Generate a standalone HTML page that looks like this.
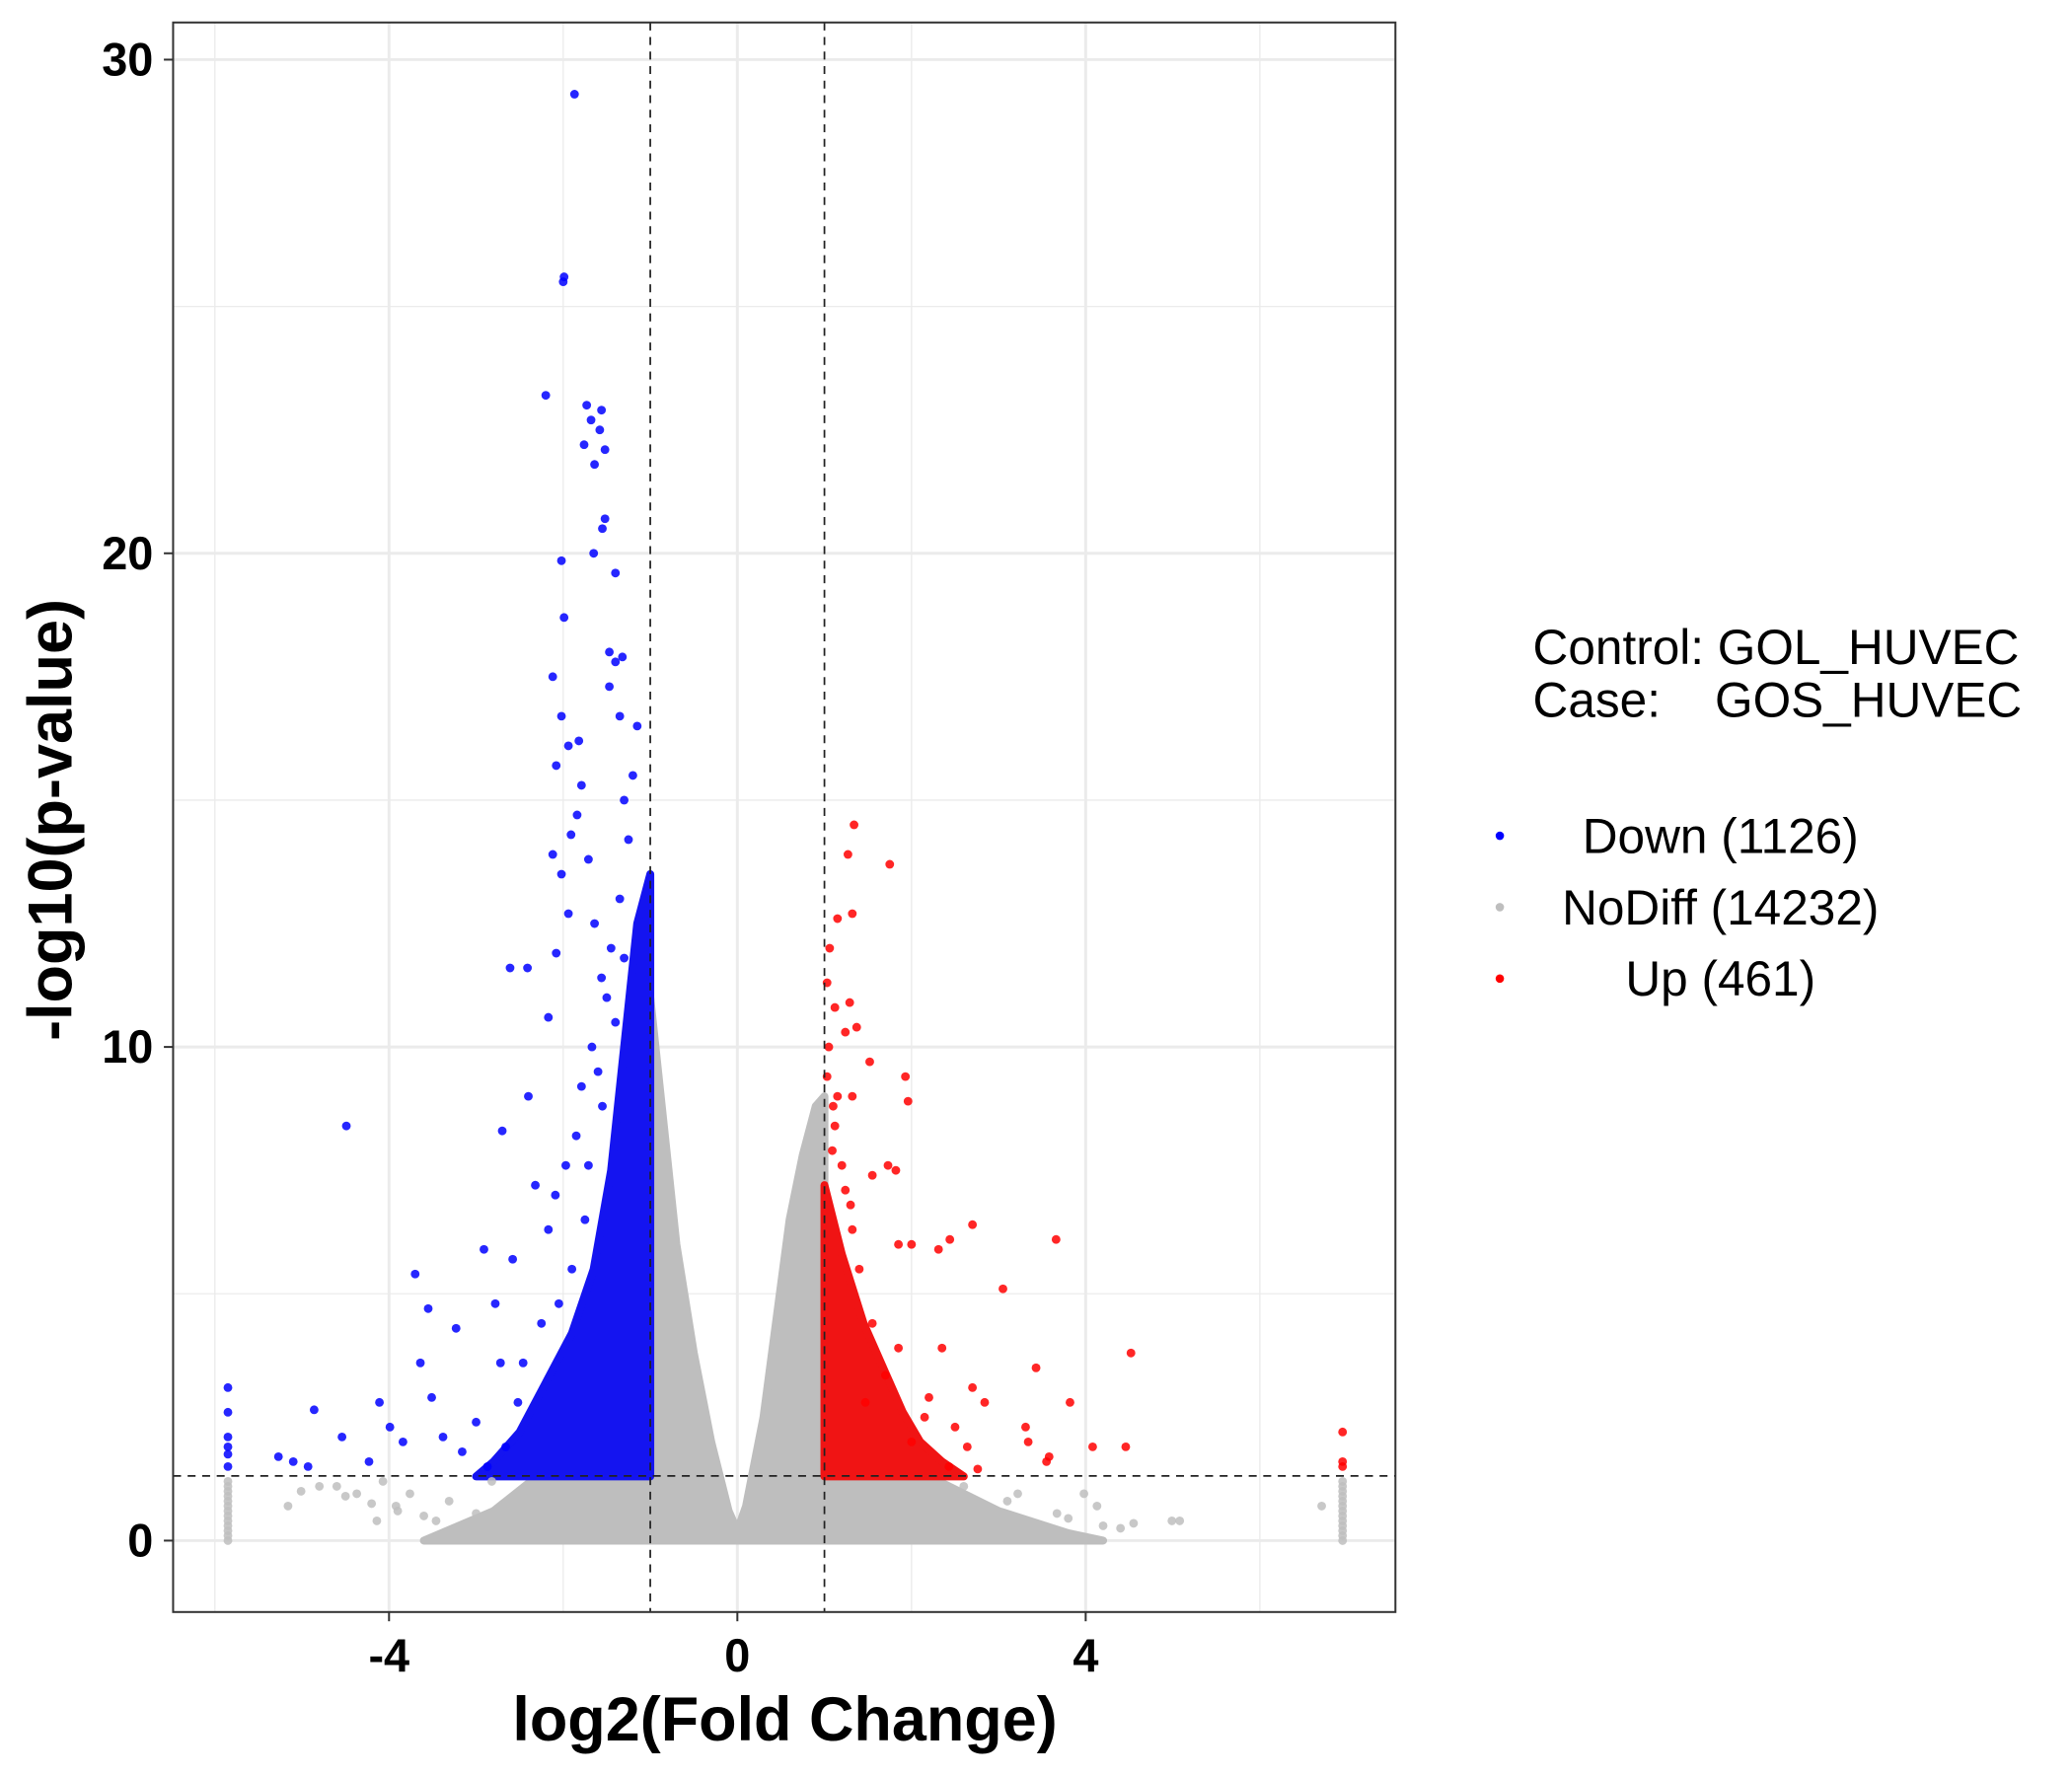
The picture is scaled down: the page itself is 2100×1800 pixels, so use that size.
<!DOCTYPE html>
<html><head><meta charset="utf-8"><style>
html,body{margin:0;padding:0;background:#fff;}
svg{display:block;font-family:"Liberation Sans",sans-serif;}
</style></head><body>
<svg id="chart" width="2100" height="1800" viewBox="0 0 1568 1343" preserveAspectRatio="none" xmlns="http://www.w3.org/2000/svg">
<rect x="0" y="0" width="1568" height="1343" fill="#fff"/>
<g id="grid"></g>
<g id="areas"></g>
<g id="pts"></g>
<g id="ref"></g>
<rect x="131" y="17" width="925" height="1202" fill="none" stroke="#333" stroke-width="1.5"/>
<g id="axes"></g>
<text x="594" y="1316" text-anchor="middle" font-weight="bold" font-size="47">log2(Fold Change)</text>
<text transform="translate(54,620) rotate(-90)" text-anchor="middle" font-weight="bold" font-size="47">-log10(p-value)</text>
<g font-size="37">
<text x="1160" y="502">Control: GOL_HUVEC</text>
<text x="1160" y="542" xml:space="preserve">Case:    GOS_HUVEC</text>
<circle cx="1135" cy="632" r="3.2" fill="#0000ff"/>
<text x="1302" y="645" text-anchor="middle">Down (1126)</text>
<circle cx="1135" cy="686" r="3.2" fill="#bebebe"/>
<text x="1302" y="699" text-anchor="middle">NoDiff (14232)</text>
<circle cx="1135" cy="740" r="3.2" fill="#ff0000"/>
<text x="1302" y="753" text-anchor="middle">Up (461)</text>
</g>
</svg>
<script>
const xTicks=[-4,0,4];
const xTickLabels=["-4","0","4"];
const xMinor=[-6,-2,2,6];
const yTicks=[0,10,20,30];
const yTickLabels=["0","10","20","30"];
const yMinor=[5,15,25];
const fcCut=[-1,1];
const pCut=1.31;
const nodiffArea=[[-1,1.3],[-1,11],[-0.85,8.5],[-0.7,6],[-0.5,3.8],[-0.3,2],[-0.1,0.6],[0,0.2],[0.1,0.7],[0.3,2.5],[0.45,4.5],[0.6,6.5],[0.75,7.8],[0.9,8.8],[1,9],[1,1.3],[2.2,1.3],[3,0.6],[3.8,0.15],[4.2,0],[-3.6,0],[-2.8,0.6],[-2.3,1.3]];
const downArea=[[-1,1.3],[-1,13.5],[-1.15,12.5],[-1.3,10],[-1.45,7.5],[-1.65,5.5],[-1.9,4.2],[-2.2,3.2],[-2.5,2.2],[-2.8,1.6],[-3,1.3]];
const upArea=[[1,1.3],[1,7.2],[1.2,5.8],[1.45,4.4],[1.7,3.4],[1.9,2.6],[2.1,2.0],[2.35,1.6],[2.6,1.3]];
const downX=[-1.87,-2.0,-1.99,-2.2,-1.73,-1.68,-1.56,-1.58,-1.52,-1.76,-1.64,-1.52,-1.55,-1.65,-1.4,-2.02,-1.99,-2.12,-2.02,-1.94,-2.08,-1.82,-1.47,-1.4,-1.32,-1.47,-1.35,-4.49,-2.61,-2.41,-2.7,-2.4,-2.32,-2.91,-2.58,-3.7,-3.55,-3.23,-2.78,-3.64,-2.72,-3.51,-4.11,-4.86,-4.54,-3.99,-5.27,-5.1,-4.93,-4.23,-3.84,-3.38,-3.16,-3.0,-2.87,-2.66,-2.52,-2.46,-2.25,-2.17,-2.09,-1.97,-2.17,-2.08,-1.94,-2.02,-1.91,-2.12,-1.84,-1.79,-1.71,-1.64,-1.56,-1.67,-1.79,-1.85,-1.71,-1.3,-1.25,-1.35,-1.2,-1.45,-1.5,-1.6,-1.3,-1.15,-1.4,-1.55,-1.75,-1.9,-2.05,-5.85,-5.85,-5.85,-5.85,-5.85,-5.85];
const downY=[29.3,25.5,25.6,23.2,23.0,22.7,22.9,22.5,22.1,22.2,21.8,20.7,20.5,20.0,19.6,19.85,18.7,17.5,16.7,16.1,15.7,16.2,18.0,17.8,17.9,17.3,16.7,8.4,11.6,11.6,8.3,9.0,7.2,5.9,5.7,5.4,4.7,4.3,4.8,3.6,3.6,2.9,2.8,2.65,2.1,2.3,1.7,1.6,1.5,1.6,2.0,2.1,1.8,2.4,1.5,1.9,2.8,3.6,4.4,6.3,7.0,7.6,10.6,11.9,12.7,13.5,14.3,13.9,14.7,15.3,13.8,12.5,11.4,10.0,9.2,8.2,7.6,15.0,14.2,13.0,15.5,12.0,11.0,9.5,11.8,16.5,10.5,8.8,6.5,5.5,4.8,3.1,2.6,2.1,1.9,1.75,1.5];
const upX=[1.34,1.27,1.75,1.32,1.15,1.06,1.03,1.29,1.12,1.37,1.24,1.05,1.52,1.93,1.96,1.32,1.03,1.12,1.73,1.82,1.55,2.7,3.66,2.44,2.31,1.85,2.0,3.05,4.52,2.35,3.43,3.82,2.7,2.84,2.2,3.31,3.34,3.58,3.55,4.08,4.46,2.5,2.64,2.76,2.43,2.0,2.15,1.7,1.85,1.55,1.4,1.32,1.24,1.09,1.47,1.1,1.2,1.3,1.15,6.95,6.95,6.95];
const upY=[14.5,13.9,13.7,12.7,12.6,12.0,11.3,10.9,10.8,10.4,10.3,10.0,9.7,9.4,8.9,9.0,9.4,8.4,7.6,7.5,7.4,6.4,6.1,6.1,5.9,6.0,6.0,5.1,3.8,3.9,3.5,2.8,3.1,2.8,2.9,2.3,2.0,1.7,1.6,1.9,1.9,2.3,1.9,1.45,1.5,2.0,2.5,3.35,3.9,4.4,5.5,6.3,7.1,7.9,2.8,8.8,7.6,6.8,9.0,2.2,1.6,1.5];
const nodiffX=[4.99,5.08,4.55,4.13,3.98,3.67,3.22,2.76,3.07,6.71,-5.16,-5.01,-4.6,-4.37,-4.14,-3.92,-3.76,-3.46,-3.31,-3.0,-2.82,-2.55,-4.07,-4.8,-4.5,-4.2,-3.9,-3.6,2.5,2.9,3.3,3.5,3.8,4.2,4.4,2.6,3.1,-5.85,-5.85,-5.85,-5.85,-5.85,-5.85,-5.85,-5.85,-5.85,-5.85,-5.85,-5.85,-5.85,6.95,6.95,6.95,6.95,6.95,6.95,6.95,6.95,6.95,6.95,6.95,6.95,6.95];
const nodiffY=[0.4,0.4,0.35,0.7,0.95,0.55,0.95,0.7,0.3,0.7,0.7,1.0,1.1,0.95,0.4,0.7,0.95,0.4,0.8,0.55,1.2,0.7,1.2,1.1,0.9,0.75,0.6,0.5,0.9,0.4,0.3,0.2,0.45,0.3,0.25,1.1,0.8,0,0.1,0.2,0.3,0.4,0.5,0.6,0.7,0.8,0.9,1.0,1.1,1.2,0,0.1,0.2,0.3,0.4,0.5,0.6,0.7,0.8,0.9,1.0,1.1,1.2];

const NS='http://www.w3.org/2000/svg';
function sx(v){return 558+v*65.9;}
function sy(v){return 1165-v*37.33;}
function mk(tag,attrs,parent){const e=document.createElementNS(NS,tag);for(const k in attrs)e.setAttribute(k,attrs[k]);parent.appendChild(e);return e;}
const grid=document.getElementById('grid');
xMinor.forEach(v=>{const l=mk('line',{x1:sx(v),x2:sx(v),y1:17,y2:1219,stroke:'#ebebeb','stroke-width':1},grid);

});
yMinor.forEach(v=>{const l=mk('line',{x1:131,x2:1056,y1:sy(v),y2:sy(v),stroke:'#ebebeb','stroke-width':1},grid);

});
xTicks.forEach(v=>{const l=mk('line',{x1:sx(v),x2:sx(v),y1:17,y2:1219,stroke:'#ebebeb','stroke-width':2.2},grid);

});
yTicks.forEach(v=>{const l=mk('line',{x1:131,x2:1056,y1:sy(v),y2:sy(v),stroke:'#ebebeb','stroke-width':2.2},grid);

});

const areas=document.getElementById('areas');
function area(arr,fill,name){const p=mk('polygon',{points:arr.map(d=>sx(d[0])+','+sy(d[1])).join(' '),fill:fill,stroke:fill,'stroke-width':6,'stroke-linejoin':'round'},areas);

}
area(nodiffArea,'#bebebe','nodiff-dense-area');
area(downArea,'#1414f0','down-dense-area');
area(upArea,'#f01414','up-dense-area');

const pts=document.getElementById('pts');
function series(xs,ys,fill,name){xs.forEach((x,i)=>{const c=mk('circle',{cx:sx(x),cy:sy(ys[i]),r:3.3,fill:fill,'fill-opacity':0.85},pts);

});}
series(nodiffX,nodiffY,'#bebebe','nodiff-point');
series(downX,downY,'#0000ff','down-point');
series(upX,upY,'#ff0000','up-point');

const ref=document.getElementById('ref');
fcCut.forEach(v=>{const l=mk('line',{x1:sx(v),x2:sx(v),y1:17,y2:1219,stroke:'#222','stroke-width':1.3,'stroke-dasharray':'6,5'},ref);

});
{const l=mk('line',{x1:131,x2:1056,y1:sy(pCut),y2:sy(pCut),stroke:'#222','stroke-width':1.3,'stroke-dasharray':'6,5'},ref);

}

const axes=document.getElementById('axes');
xTicks.forEach((v,i)=>{const t=mk('line',{x1:sx(v),x2:sx(v),y1:1219,y2:1226,stroke:'#333','stroke-width':1.5},axes);


const tx=mk('text',{x:sx(v),y:1264,'text-anchor':'middle','font-weight':'bold','font-size':35},axes);tx.textContent=xTickLabels[i];

});
yTicks.forEach((v,i)=>{const t=mk('line',{x1:124,x2:131,y1:sy(v),y2:sy(v),stroke:'#333','stroke-width':1.5},axes);


const tx=mk('text',{x:116,y:sy(v)+12,'text-anchor':'end','font-weight':'bold','font-size':35},axes);tx.textContent=yTickLabels[i];

});
</script>
</body></html>
